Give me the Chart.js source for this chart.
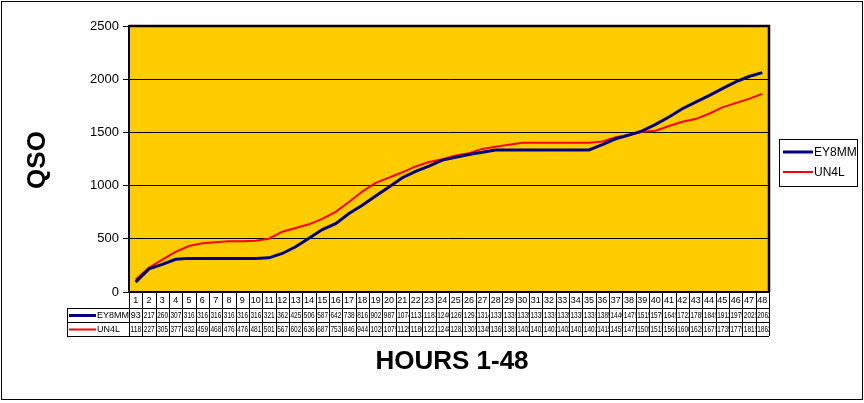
<!DOCTYPE html>
<html>
<head>
<meta charset="utf-8">
<script src="https://cdn.jsdelivr.net/npm/chart.js@4/dist/chart.umd.min.js"></script>
<style>
html,body{margin:0;padding:0;background:#fff;}
#wrap{width:864px;height:403px;position:relative;}
</style>
</head>
<body>
<div id="wrap"><canvas id="c" width="864" height="403"></canvas></div>
<script>
const hours = ['1','2','3','4','5','6','7','8','9','10','11','12','13','14','15','16','17','18','19','20','21','22','23','24','25','26','27','28','29','30','31','32','33','34','35','36','37','38','39','40','41','42','43','44','45','46','47','48'];
const ey8mm = [93,217,260,307,316,316,316,316,316,316,321,362,425,506,587,642,738,816,902,987,1074,1133,1183,1240,1265,1293,1314,1335,1335,1335,1335,1335,1335,1335,1335,1385,1440,1475,1515,1575,1645,1722,1785,1845,1912,1975,2025,2062];
const un4l = [118,227,305,377,432,459,468,476,476,481,501,567,602,636,687,753,846,944,1025,1075,1125,1180,1222,1248,1282,1305,1345,1365,1385,1402,1402,1402,1402,1402,1402,1415,1455,1475,1505,1515,1560,1600,1625,1675,1735,1775,1815,1862];
const yTicks = [0,500,1000,1500,2000,2500];
const seriesNames = ['EY8MM','UN4L'];
const seriesColors = ['#000080','#FF0000'];
const yTitle = 'QSO';
const xTitle = 'HOURS 1-48';

const FONT = '"Liberation Sans", Arial, sans-serif';

const decor = {
  id: 'decor',
  beforeDraw(chart) {
    const {ctx, chartArea: a} = chart;
    ctx.save();
    ctx.fillStyle = '#fff';
    ctx.fillRect(0, 0, chart.width, chart.height);
    ctx.fillStyle = '#FFCC00';
    ctx.fillRect(a.left, a.top, a.right - a.left, a.bottom - a.top);
    ctx.restore();
  },
  afterDraw(chart) {
    const {ctx, chartArea: a} = chart;
    const xs = chart.scales.x;
    ctx.save();
    ctx.strokeStyle = '#000';
    ctx.lineWidth = 2.5;
    ctx.beginPath();
    ctx.moveTo(a.left, a.top);
    ctx.lineTo(a.right, a.top);
    ctx.lineTo(a.right, a.bottom);
    ctx.stroke();
    ctx.lineWidth = 2;
    ctx.beginPath();
    ctx.moveTo(a.left, a.top);
    ctx.lineTo(a.left, a.bottom);
    ctx.lineTo(a.right, a.bottom);
    ctx.stroke();

    const n = hours.length;
    const cw = (a.right - a.left) / n;
    const tLeft = 67, rowTop = a.bottom + 16, rowH = 14;
    const tBottom = rowTop + rowH * 2;
    ctx.lineWidth = 1;
    ctx.strokeStyle = '#000';
    ctx.beginPath();
    for (let i = 0; i <= n; i++) {
      const x = Math.round(a.left + i * cw) + 0.5;
      ctx.moveTo(x, a.bottom);
      ctx.lineTo(x, tBottom);
    }
    ctx.moveTo(tLeft + 0.5, rowTop);
    ctx.lineTo(tLeft + 0.5, tBottom);
    for (let r = 0; r <= 2; r++) {
      const y = rowTop + r * rowH + 0.5;
      ctx.moveTo(tLeft, y);
      ctx.lineTo(a.right, y);
    }
    ctx.stroke();

    ctx.fillStyle = '#000';
    for (let i = 0; i < n; i++) {
      const cx = xs.getPixelForValue(i);
      drawCellText(ctx, hours[i], cx, a.bottom + 8.5, cw);
    }
    const series = [ey8mm, un4l];
    for (let s = 0; s < 2; s++) {
      const cy = rowTop + s * rowH + rowH / 2 + 0.5;
      for (let i = 0; i < n; i++) {
        const cx = xs.getPixelForValue(i);
        drawCellText(ctx, String(series[s][i]), cx, cy, cw);
      }
      ctx.strokeStyle = seriesColors[s];
      ctx.lineWidth = s === 0 ? 3 : 2;
      ctx.beginPath();
      ctx.moveTo(69, cy);
      ctx.lineTo(96, cy);
      ctx.stroke();
      ctx.fillStyle = '#000';
      ctx.textAlign = 'left';
      ctx.textBaseline = 'middle';
      ctx.font = '9px ' + FONT;
      ctx.fillText(seriesNames[s], 97, cy);
    }

    ctx.strokeStyle = '#000';
    ctx.lineWidth = 1;
    ctx.strokeRect(779.5, 139.5, 78, 47);
    for (let s = 0; s < 2; s++) {
      const y = 152 + s * 20;
      ctx.strokeStyle = seriesColors[s];
      ctx.lineWidth = s === 0 ? 3 : 2;
      ctx.beginPath();
      ctx.moveTo(783, y);
      ctx.lineTo(813, y);
      ctx.stroke();
      ctx.fillStyle = '#000';
      ctx.font = '12px ' + FONT;
      ctx.textAlign = 'left';
      ctx.textBaseline = 'middle';
      ctx.fillText(seriesNames[s], 814, y + 1);
    }

    ctx.fillStyle = '#000';
    ctx.font = 'bold 26px ' + FONT;
    ctx.textAlign = 'center';
    ctx.textBaseline = 'middle';
    ctx.fillText(xTitle, 452, 362);
    ctx.save();
    ctx.translate(38, 160);
    ctx.rotate(-Math.PI / 2);
    ctx.fillText(yTitle, 0, 0);
    ctx.restore();

    ctx.strokeStyle = '#000';
    ctx.lineWidth = 1;
    ctx.strokeRect(1.5, 1.5, 861, 398);
    ctx.restore();
  }
};

function drawCellText(ctx, txt, cx, cy, cw) {
  ctx.save();
  ctx.beginPath();
  ctx.rect(cx - cw / 2 + 1, cy - 7, cw - 1, 14);
  ctx.clip();
  ctx.font = '9px ' + FONT;
  ctx.textAlign = 'left';
  ctx.textBaseline = 'middle';
  const shown = txt.length > 3 ? txt.slice(0, 3) : txt;
  const w = ctx.measureText(shown).width;
  const avail = cw - 2.5;
  const sx = w > avail ? avail / w : 1;
  const startX = sx < 1 ? cx - cw / 2 + 1.5 : cx - w / 2;
  ctx.translate(startX, cy);
  ctx.scale(sx, 1);
  ctx.fillText(txt, 0, 0);
  ctx.restore();
}

new Chart(document.getElementById('c'), {
  type: 'line',
  data: {
    labels: hours,
    datasets: [
      {label: seriesNames[0], data: ey8mm, borderColor: seriesColors[0], borderWidth: 3, pointRadius: 0, tension: 0, fill: false},
      {label: seriesNames[1], data: un4l, borderColor: seriesColors[1], borderWidth: 2, pointRadius: 0, tension: 0, fill: false}
    ]
  },
  options: {
    responsive: false,
    animation: false,
    devicePixelRatio: 1,
    layout: {padding: {left: 0, right: 95, top: 26, bottom: 0}},
    plugins: {legend: {display: false}, tooltip: {enabled: false}},
    scales: {
      x: {
        type: 'category',
        offset: true,
        grid: {display: false, drawTicks: false},
        border: {display: false},
        ticks: {display: false},
        afterFit(scale) { scale.height = 111; }
      },
      y: {
        min: 0, max: 2500,
        afterBuildTicks(scale) { scale.ticks = yTicks.map(v => ({value: v})); },
        ticks: {color: '#000', font: {family: FONT, size: 13}, padding: 4, callback: v => String(v)},
        grid: {color: '#000', lineWidth: 1, tickLength: 6, drawTicks: true},
        border: {display: true, color: '#000', width: 2},
        afterFit(scale) { scale.width = 129; }
      }
    }
  },
  plugins: [decor]
});
</script>
</body>
</html>
